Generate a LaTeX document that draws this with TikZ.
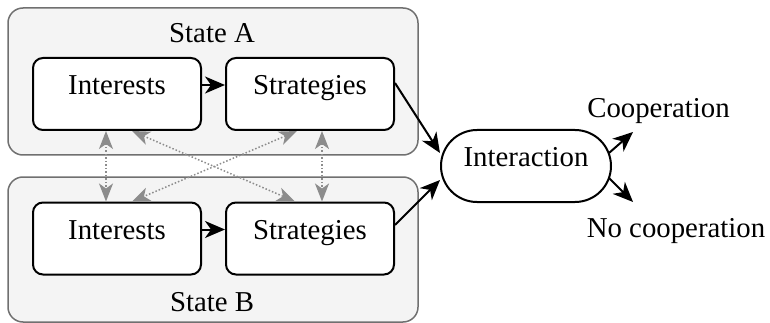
\documentclass[tikz,border=0pt]{standalone}
\usepackage{fontspec}
\setmainfont{Liberation Serif}
\usetikzlibrary{arrows.meta,shapes.misc}
\definecolor{stategray}{HTML}{F4F4F4}
\definecolor{framegray}{HTML}{707070}
\definecolor{linkgray}{HTML}{8C8C8C}

\begin{document}
\begin{tikzpicture}[x=1pt,y=-1pt]
                \tikzstyle{every node}=[font=\rmfamily\fontsize{28.8}{34}\selectfont]
                \tikzstyle{state}=[draw=framegray,fill=stategray,line width=1.5pt,rounded corners=15pt]
                \tikzstyle{box}=[draw,fill=white,line width=2pt,rounded corners=10pt,minimum width=168pt,minimum height=72pt,text height=19pt,text depth=18pt,inner sep=0pt]
                \tikzstyle{flow}=[-{Stealth[length=20pt,width=17pt,inset=6pt]},line width=2pt]
                \tikzstyle{link}=[{Stealth[length=18pt,width=14pt,inset=5pt]}-{Stealth[length=18pt,width=14pt,inset=5pt]},linkgray,dotted,line width=1.5pt]
                \useasboundingbox (0,0) rectangle (770,323);
                \draw [state] (8,8) rectangle (418,155);
                \draw [state] (8,177) rectangle (418,322);
                \node (labA) at (212,33) {State A};
                \node (labB) at (212,302) {State B};
                \node [box] (ia) at (117,94) {Interests};
                \node [box] (sa) at (310,94) {Strategies};
                \node [box] (ib) at (117,238.5) {Interests};
                \node [box] (sb) at (310,238.5) {Strategies};
                \node [box,rounded rectangle,rounded corners=0pt,minimum width=170pt] (inter) at (526,166) {Interaction};
                \node [anchor=base] (coop) at (658.5,118) {Cooperation};
                \node [anchor=base] (nocoop) at (676,237) {No cooperation};
                \coordinate (coopend) at (633,132);
                \coordinate (nocoopend) at (633,202);
                % inside each state
                \draw [flow] ([yshift=9pt]ia.east) -- ([yshift=9pt]sa.west);
                \draw [flow] ([yshift=9pt]ib.east) -- ([yshift=9pt]sb.west);
                % to the interaction
                \draw [flow] ([yshift=11pt]sa.east) -- ([yshift=13pt]inter.west);
                \draw [flow] ([yshift=13.5pt]sb.east) -- ([yshift=-14pt]inter.west);
                \draw [flow] ([shift={(-3pt,13pt)}]inter.east) -- (coopend);
                \draw [flow] ([shift={(-3pt,-12pt)}]inter.east) -- (nocoopend);
                % links between the states
                \draw [link] ([xshift=-11pt]ia.south) -- ([xshift=-11pt]ib.north);
                \draw [link] ([xshift=12pt]sa.south) -- ([xshift=12pt]sb.north);
                \draw [link] ([xshift=15pt]ia.south) -- ([xshift=-15pt]sb.north);
                \draw [link] ([xshift=-13pt]sa.south) -- ([xshift=15pt]ib.north);
            \end{tikzpicture}
\end{document}
